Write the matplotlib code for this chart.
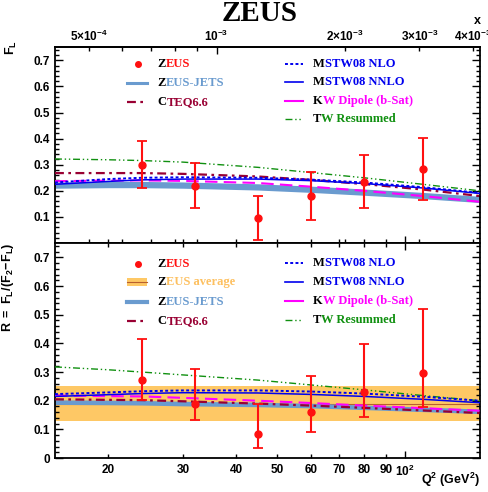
import matplotlib.pyplot as plt
from matplotlib.ticker import FixedLocator, FixedFormatter, MultipleLocator, FuncFormatter, NullFormatter

plt.rcParams['font.family'] = ['Liberation Sans', 'DejaVu Sans']
plt.rcParams['font.weight'] = 'bold'
plt.rcParams['mathtext.fontset'] = 'custom'
plt.rcParams['mathtext.rm'] = 'Liberation Sans:bold'
plt.rcParams['mathtext.it'] = 'Liberation Sans:bold'
plt.rcParams['mathtext.bf'] = 'Liberation Sans:bold'

# ---- measured points ----
q2_pts = [24, 32, 45, 60, 80, 110]
fl = [0.300, 0.220, 0.097, 0.180, 0.235, 0.282]
fl_dn = [0.091, 0.085, 0.086, 0.092, 0.102, 0.118]
fl_up = [0.090, 0.086, 0.084, 0.093, 0.104, 0.121]
r = [0.272, 0.187, 0.083, 0.159, 0.231, 0.295]
r_dn = [0.070, 0.055, 0.048, 0.067, 0.089, 0.118]
r_up = [0.143, 0.122, 0.105, 0.127, 0.166, 0.225]

# ZEUS average R
r_avg = 0.19
r_avg_err = 0.06

# ---- theory curves ----
q2_grid = [15, 20, 24, 30, 45, 60, 80, 110, 150]

tw_fl = [0.322, 0.319, 0.316, 0.310, 0.290, 0.270, 0.250, 0.225, 0.200]
cteq_fl = [0.268, 0.268, 0.268, 0.265, 0.255, 0.242, 0.226, 0.205, 0.180]
nlo_fl = [0.232, 0.245, 0.250, 0.252, 0.250, 0.243, 0.232, 0.214, 0.192]
nnlo_fl = [0.225, 0.236, 0.242, 0.245, 0.245, 0.239, 0.228, 0.211, 0.190]
kw_fl = [0.237, 0.239, 0.240, 0.238, 0.230, 0.216, 0.200, 0.180, 0.158]
jets_fl = [0.222, 0.224, 0.224, 0.222, 0.215, 0.206, 0.195, 0.182, 0.167]
jets_fl_err = [0.012] * 9

tw_r = [0.318, 0.308, 0.300, 0.290, 0.272, 0.255, 0.238, 0.218, 0.200]
cteq_r = [0.205, 0.203, 0.202, 0.198, 0.190, 0.183, 0.175, 0.166, 0.157]
nlo_r = [0.223, 0.229, 0.233, 0.236, 0.236, 0.232, 0.225, 0.214, 0.200]
nnlo_r = [0.215, 0.221, 0.225, 0.228, 0.227, 0.222, 0.215, 0.205, 0.193]
kw_r = [0.218, 0.216, 0.215, 0.210, 0.200, 0.192, 0.183, 0.174, 0.165]
jets_r = [0.195, 0.194, 0.193, 0.190, 0.187, 0.183, 0.177, 0.170, 0.163]
jets_r_err = [0.008] * 9

x_major = [1e-3]
x_minor = [5e-4, 6e-4, 7e-4, 8e-4, 9e-4, 2e-3, 3e-3, 4e-3]
x_minor_labels = [r'$5{\times}10^{-4}$', '', '', '', '', r'$2{\times}10^{-3}$',
                  r'$3{\times}10^{-3}$', r'$4{\times}10^{-3}$']
q2_minor = [20, 30, 40, 50, 60, 70, 80, 90]

# colours
RED = '#ff1010'
JETS = '#6a9bcf'
CTEQ = '#990033'
BLUE = '#0000ee'
MAG = '#ff00ff'
GREEN = '#109010'
ORANGE = '#fec865'
AVG_TXT = '#fdc060'

Q2X = 1.0 / 36000.0

fig = plt.figure(figsize=(4.88, 4.92), dpi=100)
ax1 = fig.add_axes([0.1127, 0.506, 0.871, 0.398])
ax2 = fig.add_axes([0.1127, 0.069, 0.871, 0.437])


def draw_curves(ax, jets, jets_err, cteq, nlo, nnlo, kw, tw):
    lo = [a - b for a, b in zip(jets, jets_err)]
    hi = [a + b for a, b in zip(jets, jets_err)]
    ax.fill_between(q2_grid, lo, hi, color=JETS, lw=0, zorder=2)
    ax.plot(q2_grid, tw, color=GREEN, lw=1.0, ls=(0, (5, 2, 1, 2, 1, 2)), zorder=3)
    ax.plot(q2_grid, kw, color=MAG, lw=1.5, ls=(0, (6, 3)), zorder=3)
    ax.plot(q2_grid, cteq, color=CTEQ, lw=1.6, ls=(0, (4, 2, 1.2, 2)), zorder=4)
    ax.plot(q2_grid, nnlo, color=BLUE, lw=1.1, zorder=4)
    ax.plot(q2_grid, nlo, color=BLUE, lw=1.4, ls=(0, (1.5, 1.2)), zorder=4)


def style_axis(ax):
    ax.set_xscale('log')
    ax.set_xlim(15, 150)
    ax.set_ylim(0, 0.75)
    ax.yaxis.set_major_locator(MultipleLocator(0.1))
    ax.yaxis.set_minor_locator(MultipleLocator(0.02))
    ax.tick_params(axis='y', which='both', direction='in', left=True, right=True, labelsize=8.5)
    ax.tick_params(axis='y', which='major', length=5.8, width=1.0)
    ax.tick_params(axis='y', which='minor', length=2.9, width=1.0)
    ax.xaxis.set_major_locator(FixedLocator([100]))
    ax.tick_params(axis='x', which='both', direction='in', labelsize=8.5, width=1.0)
    ax.tick_params(axis='x', which='major', length=5.0)
    ax.tick_params(axis='x', which='minor', length=2.6)
    for s in ax.spines.values():
        s.set_linewidth(1.3)


def legend_text(ax, x, y, first, rest, color):
    t = ax.text(x, y, first, transform=ax.transAxes, color='black', va='center', ha='left',
                family='Liberation Serif', weight='bold', fontsize=9)
    ax.annotate(rest, xy=(1, 0), xycoords=t, va='bottom', ha='left', color=color,
                family='Liberation Serif', weight='bold', fontsize=9)


def legend_line(ax, y, x0, x1, **kw):
    ax.plot([x0, x1], [y, y], transform=ax.transAxes, clip_on=False, **kw)


# ---------------- top panel: F_L ----------------
style_axis(ax1)
draw_curves(ax1, jets_fl, jets_fl_err, cteq_fl, nlo_fl, nnlo_fl, kw_fl, tw_fl)
ax1.errorbar(q2_pts, fl, yerr=[fl_dn, fl_up], fmt='o', color=RED, ms=5, elinewidth=1.5,
             capsize=3.5, capthick=1.3, zorder=6)
ax1.yaxis.set_major_formatter(FuncFormatter(lambda v, p: '' if v < 0.05 else f'{v:.1f}'))
ax1.xaxis.set_minor_locator(FixedLocator(q2_minor + [v / Q2X for v in x_minor]))
ax1.xaxis.set_major_formatter(NullFormatter())
ax1.xaxis.set_minor_formatter(NullFormatter())
ax1.tick_params(axis='x', which='both', top=False, bottom=True)

sec = ax1.secondary_xaxis('top', functions=(lambda q: q * Q2X, lambda x: x / Q2X))
sec.xaxis.set_major_locator(FixedLocator(x_major))
sec.xaxis.set_major_formatter(FixedFormatter([r'$10^{-3}$']))
sec.xaxis.set_minor_locator(FixedLocator(x_minor))
sec.xaxis.set_minor_formatter(FixedFormatter(x_minor_labels))
sec.tick_params(which='both', direction='in', labelsize=8.5, width=1.0, pad=2)
sec.tick_params(which='major', length=5.0)
sec.tick_params(which='minor', length=2.6)
sec.spines['top'].set_linewidth(1.3)

ax1.set_ylabel(r'$\mathrm{F_L}$', loc='top', fontsize=9)
ax1.yaxis.set_label_coords(-0.085, 1.035)
ax1.text(0.993, 1.135, 'x', transform=ax1.transAxes, ha='center', va='center', fontsize=9)

# legend top
ax1.plot([0.195], [0.913], 'o', color=RED, ms=4, transform=ax1.transAxes)
legend_text(ax1, 0.242, 0.913, 'Z', 'EUS', RED)
legend_line(ax1, 0.816, 0.169, 0.216, color=JETS, lw=2.2)
legend_text(ax1, 0.242, 0.816, 'Z', 'EUS-JETS', JETS)
legend_line(ax1, 0.719, 0.169, 0.216, color=CTEQ, lw=1.6, ls=(0, (4, 2, 1.2, 2)))
legend_text(ax1, 0.242, 0.719, 'C', 'TEQ6.6', CTEQ)

legend_line(ax1, 0.913, 0.541, 0.584, color=BLUE, lw=1.4, ls=(0, (1.5, 1.2)))
legend_text(ax1, 0.607, 0.913, 'M', 'STW08 NLO', BLUE)
legend_line(ax1, 0.820, 0.541, 0.584, color=BLUE, lw=1.2)
legend_text(ax1, 0.607, 0.820, 'M', 'STW08 NNLO', BLUE)
legend_line(ax1, 0.724, 0.541, 0.584, color=MAG, lw=1.5)
legend_text(ax1, 0.607, 0.724, 'K', 'W Dipole (b-Sat)', MAG)
legend_line(ax1, 0.633, 0.541, 0.584, color=GREEN, lw=1.0, ls=(0, (5, 2, 1, 2, 1, 2)))
legend_text(ax1, 0.607, 0.633, 'T', 'W Resummed', GREEN)

# ---------------- bottom panel: R ----------------
style_axis(ax2)
ax2.axhspan(r_avg - r_avg_err, r_avg + r_avg_err, color=ORANGE, lw=0, zorder=1)
ax2.axhline(r_avg, color='#b8602e', lw=0.8, zorder=1.5)
draw_curves(ax2, jets_r, jets_r_err, cteq_r, nlo_r, nnlo_r, kw_r, tw_r)
ax2.errorbar(q2_pts, r, yerr=[r_dn, r_up], fmt='o', color=RED, ms=5, elinewidth=1.5,
             capsize=3.5, capthick=1.3, zorder=6)
ax2.yaxis.set_major_formatter(FuncFormatter(lambda v, p: '0' if v < 0.05 else f'{v:.1f}'))
ax2.xaxis.set_minor_locator(FixedLocator(q2_minor))
ax2.xaxis.set_major_formatter(FixedFormatter([r'$10^{2}$']))
ax2.xaxis.set_minor_formatter(FixedFormatter([str(v) for v in q2_minor]))
ax2.tick_params(axis='x', which='both', top=True, bottom=True, pad=4)

ax2.set_ylabel(r'$\mathrm{R\ =\ F_L/(F_2\!-\!F_L)}$', loc='top', fontsize=9)
ax2.yaxis.set_label_coords(-0.092, 1.0)
ax2.text(1.0, -0.102, r'$\mathrm{Q^2\ (GeV^2)}$', transform=ax2.transAxes, ha='right',
         va='center', fontsize=9)

# legend bottom
ax2.plot([0.195], [0.902], 'o', color=RED, ms=4, transform=ax2.transAxes)
legend_text(ax2, 0.242, 0.902, 'Z', 'EUS', RED)
ax2.add_patch(plt.Rectangle((0.169, 0.819 - 0.018), 0.047, 0.036, color=ORANGE, lw=0,
                            transform=ax2.transAxes))
legend_line(ax2, 0.819, 0.169, 0.216, color='#b8602e', lw=0.8)
legend_text(ax2, 0.242, 0.819, 'Z', 'EUS average', AVG_TXT)
legend_line(ax2, 0.726, 0.169, 0.216, color=JETS, lw=3.0)
legend_text(ax2, 0.242, 0.726, 'Z', 'EUS-JETS', JETS)
legend_line(ax2, 0.637, 0.169, 0.216, color=CTEQ, lw=1.6, ls=(0, (4, 2, 1.2, 2)))
legend_text(ax2, 0.242, 0.637, 'C', 'TEQ6.6', CTEQ)

legend_line(ax2, 0.907, 0.541, 0.584, color=BLUE, lw=1.4, ls=(0, (1.5, 1.2)))
legend_text(ax2, 0.607, 0.907, 'M', 'STW08 NLO', BLUE)
legend_line(ax2, 0.819, 0.541, 0.584, color=BLUE, lw=1.2)
legend_text(ax2, 0.607, 0.819, 'M', 'STW08 NNLO', BLUE)
legend_line(ax2, 0.730, 0.541, 0.584, color=MAG, lw=1.5)
legend_text(ax2, 0.607, 0.730, 'K', 'W Dipole (b-Sat)', MAG)
legend_line(ax2, 0.642, 0.541, 0.584, color=GREEN, lw=1.0, ls=(0, (5, 2, 1, 2, 1, 2)))
legend_text(ax2, 0.607, 0.642, 'T', 'W Resummed', GREEN)

fig.text(0.531, 0.957, 'ZEUS', ha='center', va='baseline', family='Liberation Serif',
         weight='bold', fontsize=21)

fig.savefig('out.png', dpi=100)
